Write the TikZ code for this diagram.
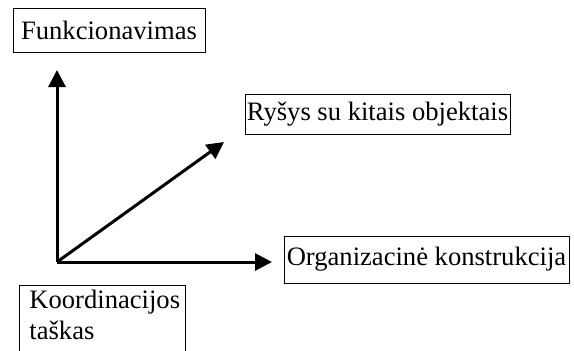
\documentclass[tikz,border=0pt]{standalone}
\usepackage{fontspec}
\setmainfont{Liberation Serif}
\usetikzlibrary{arrows.meta}
\begin{document}
\begin{tikzpicture}[x=0.5pt,y=-0.5pt,
  lbl/.style={draw,line width=0.5pt,inner sep=0pt,font=\fontsize{13.3}{15.5}\selectfont},
  axis/.style={line width=1.5pt,-{Triangle[length=8.5pt,width=8.5pt]}}]
\useasboundingbox (0,0) rectangle (574,350);
\node[lbl,minimum width=96pt,minimum height=22pt] (f) at (109,30) {Funkcionavimas};
\node[lbl,minimum width=132.5pt,minimum height=20pt] (r) at (377.5,114.5) {Ryšys su kitais objektais};
\node[lbl,minimum width=142.5pt,minimum height=23.5pt] (o) at (426.5,259.5) {Organizacinė konstrukcija};
\draw[line width=0.5pt] (19,380) -- (19,285) -- (185,285) -- (185,380);
\node[font=\fontsize{13.3}{15.5}\selectfont,align=left,anchor=north west,inner sep=0pt] (k) at (29,290) {Koordinacijos\\taškas};
\coordinate (c) at (57,262);
\coordinate (tv) at (57,70);
\coordinate (th) at (272,262);
\coordinate (td) at (224,142);
\draw[axis] (c) -- (tv);
\draw[axis] (c) -- (th);
\draw[axis] (c) -- (td);
\end{tikzpicture}
\end{document}
